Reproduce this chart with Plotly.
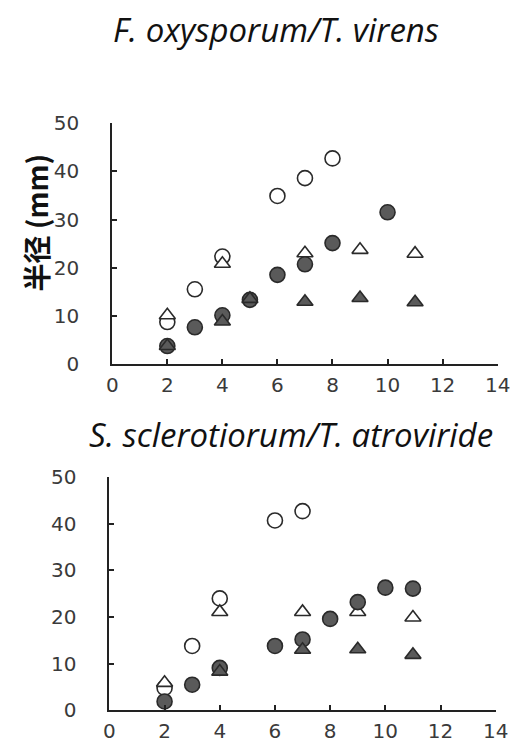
import plotly.graph_objects as go

# Top panel: F. oxysporum / T. virens
top_open_circle_x = [2, 3, 4, 6, 7, 8]
top_open_circle_y = [8.7, 15.5, 22.3, 34.9, 38.6, 42.7]
top_fill_circle_x = [2, 3, 4, 5, 6, 7, 8, 10]
top_fill_circle_y = [3.7, 7.6, 10.1, 13.3, 18.5, 20.7, 25.1, 31.5]
top_open_tri_x = [2, 4, 7, 9, 11]
top_open_tri_y = [10.1, 20.8, 23.0, 23.7, 22.9]
top_fill_tri_x = [2, 4, 5, 7, 9, 11]
top_fill_tri_y = [3.7, 8.8, 13.5, 12.9, 13.7, 12.8]

# Bottom panel: S. sclerotiorum / T. atroviride
bot_open_circle_x = [2, 3, 4, 6, 7]
bot_open_circle_y = [4.8, 13.8, 24.0, 40.7, 42.7]
bot_fill_circle_x = [2, 3, 4, 6, 7, 8, 9, 10, 11]
bot_fill_circle_y = [1.9, 5.5, 9.1, 13.8, 15.2, 19.6, 23.2, 26.3, 26.1]
bot_open_tri_x = [2, 4, 7, 9, 11]
bot_open_tri_y = [5.9, 21.1, 21.1, 21.1, 19.9]
bot_fill_tri_x = [4, 7, 9, 11]
bot_fill_tri_y = [8.3, 13.0, 13.1, 11.9]

x_ticks = [0, 2, 4, 6, 8, 10, 12, 14]
y_ticks = [0, 10, 20, 30, 40, 50]
title_top = "F. oxysporum/T. virens"
title_bottom = "S. sclerotiorum/T. atroviride"
y_label = "半径 (mm)"

EDGE = "#2a2a2a"
FILL = "#5a5a5a"

fig = go.Figure()

def add(x, y, symbol, filled, xa, ya):
    fig.add_trace(go.Scatter(
        x=x, y=y, mode="markers", xaxis=xa, yaxis=ya, showlegend=False,
        cliponaxis=False,
        marker=dict(symbol=symbol, size=15 if symbol == "circle" else 14,
                    color=FILL if filled else "white",
                    line=dict(color=EDGE, width=1.6)),
    ))

add(top_open_circle_x, top_open_circle_y, "circle", False, "x", "y")
add(top_open_tri_x, top_open_tri_y, "triangle-up", False, "x", "y")
add(top_fill_circle_x, top_fill_circle_y, "circle", True, "x", "y")
add(top_fill_tri_x, top_fill_tri_y, "triangle-up", True, "x", "y")

add(bot_open_circle_x, bot_open_circle_y, "circle", False, "x2", "y2")
add(bot_open_tri_x, bot_open_tri_y, "triangle-up", False, "x2", "y2")
add(bot_fill_circle_x, bot_fill_circle_y, "circle", True, "x2", "y2")
add(bot_fill_tri_x, bot_fill_tri_y, "triangle-up", True, "x2", "y2")

W, H = 520, 746
tickfont = dict(family="DejaVu Sans", size=20, color="#3a3a3a")
axis_common = dict(showline=True, linecolor="#222222", linewidth=2, ticks="inside",
                   ticklen=5, tickwidth=2, tickcolor="#222222", showgrid=False,
                   zeroline=False, tickfont=tickfont, fixedrange=True)
xaxis_extra = dict(ticklabelstandoff=2)
yaxis_extra = dict(ticklabelstandoff=27)

fig.update_layout(
    width=W, height=H, margin=dict(l=0, r=0, t=0, b=0),
    paper_bgcolor="white", plot_bgcolor="white",
    xaxis=dict(domain=[102 / W, 502 / W], range=[0, 14], tickvals=x_ticks, anchor="y", **axis_common, **xaxis_extra),
    yaxis=dict(domain=[1 - 355.3 / H, 1 - 106.7 / H], range=[0, 50], tickvals=y_ticks, anchor="x", **axis_common, **yaxis_extra),
    xaxis2=dict(domain=[99 / W, 500 / W], range=[0, 14], tickvals=x_ticks, anchor="y2", **axis_common, **xaxis_extra),
    yaxis2=dict(domain=[1 - 713.3 / H, 1 - 472.3 / H], range=[0, 50], tickvals=y_ticks, anchor="x2", **axis_common, **yaxis_extra),
    annotations=[
        dict(text="<i>" + title_top + "</i>", x=272 / W, y=1 - 10 / H, xref="paper", yref="paper",
             xanchor="center", yanchor="middle",
             showarrow=False, font=dict(family="Open Sans", size=33, color="#111111")),
        dict(text="<i>" + title_bottom + "</i>", x=288 / W, y=1 - 428 / H, xref="paper", yref="paper",
             xanchor="center", yanchor="middle",
             showarrow=False, font=dict(family="Open Sans", size=33, color="#111111")),
        dict(text="<b>" + y_label + "</b>", x=23 / W, y=1 - 209 / H, xref="paper", yref="paper", textangle=-90,
             xanchor="center", yanchor="middle",
             showarrow=False, font=dict(family="Noto Sans CJK SC", size=28, color="#111111")),
    ],
)

fig.write_html("out.html")
